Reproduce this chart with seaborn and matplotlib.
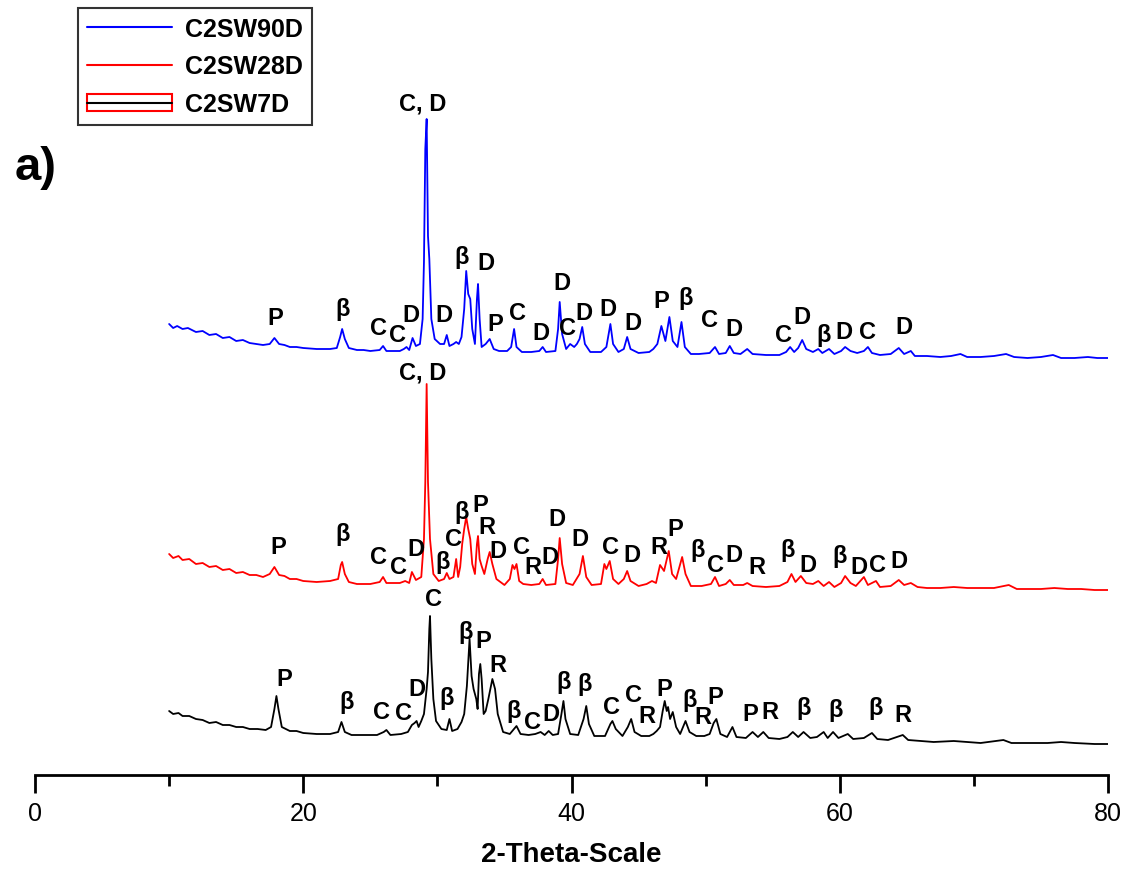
import matplotlib
matplotlib.use("Agg")
import matplotlib.pyplot as plt
from matplotlib.lines import Line2D
from matplotlib.patches import Rectangle
from matplotlib.ticker import MultipleLocator
import numpy as np
import pandas as pd
import seaborn as sns

# ---------------- XRD patterns (2-theta in degrees, intensity in a.u.) ----------------
tt_90d = [10.0, 10.3, 10.6, 11.0, 11.4, 12.0, 12.5, 13.0, 13.5, 14.0, 14.5, 15.0, 15.5, 16.0,
          16.5, 17.0, 17.5, 17.85, 18.2, 18.6, 19.0, 19.5, 20.0, 21.0, 21.5, 22.0, 22.5, 22.75,
          22.9, 23.1, 23.4, 24.0, 24.5, 25.0, 25.7, 25.95, 26.2, 26.7, 27.2, 27.5, 27.7, 27.9,
          28.15, 28.4, 28.7, 28.9, 29.0, 29.1, 29.2, 29.3, 29.4, 29.55, 29.8, 30.2, 30.5, 30.7,
          30.9, 31.2, 31.4, 31.6, 31.8, 32.0, 32.15, 32.3, 32.45, 32.6, 32.8, 32.95, 33.03, 33.15,
          33.3, 33.6, 33.9, 34.2, 34.6, 35.2, 35.5, 35.72, 35.9, 36.3, 37.0, 37.6, 37.85, 38.1,
          38.8, 39.0, 39.12, 39.3, 39.6, 39.9, 40.2, 40.4, 40.6, 40.8, 41.0, 41.4, 42.2, 42.6,
          42.9, 43.1, 43.5, 43.9, 44.15, 44.4, 45.0, 45.8, 46.1, 46.4, 46.7, 47.0, 47.3, 47.55,
          47.9, 48.2, 48.45, 48.9, 49.5, 50.3, 50.7, 51.0, 51.5, 51.8, 52.1, 52.6, 53.1, 53.5,
          54.5, 55.5, 56.0, 56.3, 56.6, 56.9, 57.2, 57.5, 58.0, 58.4, 58.7, 59.2, 59.6, 60.1,
          60.4, 60.8, 61.3, 61.8, 62.1, 62.4, 63.0, 63.8, 64.4, 64.8, 65.3, 65.6, 66.5, 67.5,
          68.3, 69.0, 69.5, 70.5, 71.5, 72.4, 73.0, 74.0, 75.0, 75.9, 76.5, 77.5, 78.5, 79.2, 80.0]
int_90d = [51, 47, 49, 46, 47, 43, 44, 40, 41, 37, 38, 34, 35, 32,
           31, 30, 31, 37, 31, 30, 28, 28, 27, 26, 26, 26, 27, 38,
           46, 36, 27, 25, 25, 24, 25, 29, 24, 24, 24, 26, 28, 25,
           37, 29, 31, 56, 113, 226, 256, 139, 116, 56, 36, 31, 31, 40,
           29, 31, 33, 31, 38, 66, 104, 81, 76, 46, 31, 76, 91, 56,
           28, 31, 36, 26, 24, 24, 28, 46, 28, 23, 23, 24, 28, 23,
           24, 46, 73, 41, 26, 31, 28, 31, 36, 48, 31, 23, 23, 28,
           51, 31, 23, 26, 38, 26, 22, 23, 26, 31, 49, 34, 58, 34,
           28, 53, 28, 21, 21, 22, 28, 21, 22, 29, 22, 21, 26, 21,
           20, 20, 23, 28, 23, 27, 35, 26, 23, 26, 22, 26, 21, 24,
           28, 24, 22, 24, 28, 22, 20, 21, 27, 21, 24, 19, 19, 18,
           19, 21, 18, 18, 19, 21, 18, 17, 18, 20, 17, 17, 18, 17, 17]

tt_28d = [10.0, 10.3, 10.7, 11.0, 11.5, 12.0, 12.5, 13.0, 13.5, 14.0, 14.5, 15.0, 15.5, 16.0,
          16.5, 17.0, 17.5, 17.85, 18.2, 18.6, 19.0, 19.5, 20.0, 21.0, 22.0, 22.6, 22.8, 22.9,
          23.1, 23.4, 24.0, 25.0, 25.7, 25.95, 26.2, 26.7, 27.2, 27.6, 27.9, 28.1, 28.4, 28.8,
          29.0, 29.1, 29.2, 29.3, 29.45, 29.7, 30.1, 30.5, 30.7, 30.9, 31.2, 31.4, 31.55, 31.7,
          31.85, 32.0, 32.15, 32.3, 32.45, 32.6, 32.8, 32.95, 33.03, 33.15, 33.3, 33.5, 33.75, 33.9,
          34.1, 34.4, 35.0, 35.4, 35.6, 35.75, 35.9, 36.1, 36.4, 37.0, 37.6, 37.85, 38.1, 38.8,
          39.0, 39.12, 39.3, 39.6, 40.1, 40.6, 40.85, 41.1, 41.5, 42.2, 42.45, 42.6, 42.85, 43.1,
          43.5, 43.9, 44.15, 44.4, 45.0, 45.6, 46.0, 46.3, 46.6, 46.9, 47.25, 47.5, 47.8, 48.25,
          48.5, 48.9, 49.7, 50.4, 50.7, 51.0, 51.5, 51.8, 52.1, 52.8, 53.1, 53.5, 54.5, 55.5,
          56.1, 56.4, 56.7, 57.1, 57.5, 58.0, 58.4, 58.8, 59.2, 59.6, 60.1, 60.4, 60.8, 61.2,
          61.8, 62.1, 62.7, 63.0, 63.8, 64.4, 64.8, 65.3, 65.8, 66.5, 67.5, 68.5, 69.5, 70.5,
          71.5, 72.6, 73.2, 74.0, 75.0, 76.0, 77.0, 78.0, 79.0, 80.0]
int_28d = [51, 47, 49, 45, 46, 41, 42, 38, 39, 35, 36, 32, 33, 30,
           30, 28, 31, 38, 30, 29, 26, 26, 24, 23, 24, 26, 40, 43,
           31, 23, 21, 21, 23, 28, 22, 22, 22, 24, 22, 33, 25, 28,
           66, 123, 221, 123, 66, 31, 24, 26, 32, 26, 28, 46, 28, 38,
           61, 76, 88, 76, 66, 41, 31, 61, 69, 46, 39, 31, 46, 53,
           41, 26, 20, 26, 40, 36, 41, 24, 21, 20, 21, 26, 20, 21,
           46, 67, 41, 22, 20, 31, 49, 28, 20, 21, 41, 36, 44, 26,
           21, 26, 34, 24, 19, 21, 24, 22, 40, 34, 54, 31, 26, 48,
           31, 19, 19, 21, 28, 19, 21, 25, 20, 20, 22, 19, 18, 19,
           23, 31, 23, 29, 22, 21, 24, 19, 23, 18, 22, 29, 22, 19,
           28, 20, 24, 18, 19, 25, 20, 22, 18, 17, 17, 18, 17, 17,
           17, 20, 16, 16, 16, 17, 16, 16, 15, 15]

tt_7d = [10.0, 10.3, 10.7, 11.0, 11.5, 12.0, 12.5, 13.0, 13.5, 14.0, 14.5, 15.0, 15.5, 16.0,
         16.6, 17.2, 17.6, 17.85, 18.0, 18.15, 18.4, 19.0, 19.5, 20.0, 21.0, 22.0, 22.6, 22.85,
         23.1, 23.6, 24.5, 25.5, 26.0, 26.2, 26.5, 27.3, 27.8, 28.1, 28.3, 28.45, 28.6, 28.8,
         29.0, 29.2, 29.3, 29.4, 29.45, 29.55, 29.7, 29.9, 30.3, 30.7, 30.9, 31.1, 31.5, 31.8,
         32.0, 32.2, 32.4, 32.55, 32.7, 32.9, 33.0, 33.1, 33.2, 33.3, 33.45, 33.6, 33.8, 34.1,
         34.3, 34.5, 34.9, 35.4, 35.9, 36.2, 36.8, 37.3, 37.7, 38.0, 38.3, 38.6, 39.0, 39.25,
         39.4, 39.55, 39.9, 40.5, 40.9, 41.1, 41.3, 41.7, 42.5, 42.9, 43.05, 43.3, 43.8, 44.2,
         44.45, 44.7, 45.2, 45.8, 46.1, 46.35, 46.6, 46.8, 46.95, 47.1, 47.2, 47.35, 47.55, 47.8,
         48.1, 48.5, 48.8, 49.3, 49.9, 50.3, 50.6, 50.8, 51.1, 51.6, 52.0, 52.3, 53.0, 53.5,
         53.9, 54.3, 54.7, 55.5, 56.1, 56.5, 56.9, 57.3, 57.8, 58.3, 58.8, 59.1, 59.5, 59.9,
         60.6, 61.0, 61.8, 62.4, 62.8, 63.6, 64.7, 65.1, 66.0, 67.0, 68.5, 69.5, 70.5, 72.2,
         72.8, 74.0, 75.5, 76.5, 77.5, 79.0, 80.0]
int_7d = [44, 41, 42, 39, 39, 36, 35, 32, 33, 30, 30, 28, 28, 26,
          26, 25, 28, 46, 59, 46, 28, 24, 24, 22, 21, 21, 23, 33,
          23, 20, 20, 20, 23, 25, 20, 21, 23, 30, 32, 34, 28, 34,
          41, 66, 83, 126, 139, 96, 56, 34, 26, 25, 36, 24, 26, 33,
          41, 69, 116, 79, 66, 56, 46, 81, 91, 76, 41, 44, 56, 76,
          66, 41, 23, 21, 29, 21, 20, 21, 23, 20, 24, 20, 21, 41,
          54, 36, 21, 20, 36, 49, 31, 19, 19, 31, 34, 26, 19, 28,
          36, 23, 19, 19, 21, 24, 28, 44, 54, 44, 48, 36, 43, 28,
          21, 34, 23, 19, 19, 21, 32, 36, 21, 18, 28, 18, 17, 23,
          18, 23, 17, 16, 18, 23, 18, 23, 17, 18, 23, 17, 23, 17,
          21, 16, 17, 22, 16, 15, 20, 15, 14, 13, 14, 13, 12, 15,
          12, 12, 12, 13, 12, 11, 11]

samples = ["C2SW90D", "C2SW28D", "C2SW7D"]
stack_offset = [400, 170, 20]          # vertical shift of each pattern
line_colors = ["#0000ff", "#ff0000", "#000000"]

# phase markers: (symbol, 2-theta, height on the stacked scale)
marks_90d = [("P", 17.9, 458), ("β", 22.9, 467), ("C", 25.6, 448), ("C", 27.0, 441),
             ("D", 28.0, 461), ("C, D", 28.9, 672), ("D", 30.5, 461), ("β", 31.8, 519),
             ("D", 33.6, 513), ("P", 34.3, 452), ("C", 36.0, 463), ("D", 37.7, 443),
             ("D", 39.3, 493), ("C", 39.7, 448), ("D", 40.9, 463), ("D", 42.7, 467),
             ("D", 44.6, 453), ("P", 46.7, 475), ("β", 48.5, 478), ("C", 50.3, 456),
             ("D", 52.1, 447), ("C", 55.8, 441), ("D", 57.2, 459), ("β", 58.8, 441),
             ("D", 60.3, 444), ("C", 62.1, 444), ("D", 64.8, 449)]
marks_28d = [("P", 18.1, 228), ("β", 22.9, 241), ("C", 25.6, 219), ("C", 27.1, 209),
             ("D", 28.4, 227), ("C, D", 28.9, 403), ("β", 30.4, 214), ("C", 31.2, 237),
             ("β", 31.8, 264), ("P", 33.2, 271), ("R", 33.7, 249), ("D", 34.5, 225),
             ("C", 36.3, 229), ("R", 37.1, 208), ("D", 38.4, 219), ("D", 38.9, 256),
             ("D", 40.6, 236), ("C", 42.9, 229), ("D", 44.5, 221), ("R", 46.5, 228),
             ("P", 47.7, 246), ("β", 49.4, 226), ("C", 50.7, 210), ("D", 52.1, 221),
             ("R", 53.8, 209), ("β", 56.1, 225), ("D", 57.6, 210), ("β", 60.0, 219),
             ("D", 61.4, 209), ("C", 62.8, 210), ("D", 64.4, 215)]
marks_7d = [("P", 18.6, 96), ("β", 23.2, 73), ("C", 25.8, 63), ("C", 27.5, 62),
            ("D", 28.5, 86), ("C", 29.7, 176), ("β", 30.7, 78), ("β", 32.1, 143),
            ("P", 33.4, 134), ("R", 34.5, 111), ("β", 35.7, 64), ("C", 37.1, 53),
            ("D", 38.5, 61), ("β", 39.4, 94), ("β", 41.0, 92), ("C", 43.0, 68),
            ("C", 44.6, 80), ("R", 45.6, 59), ("P", 46.9, 87), ("β", 48.8, 76),
            ("R", 49.8, 58), ("P", 50.7, 79), ("P", 53.3, 61), ("R", 54.8, 63),
            ("β", 57.3, 68), ("β", 59.7, 65), ("β", 62.7, 68), ("R", 64.7, 60)]

x_ticks = [0, 20, 40, 60, 80]

# ---------------- figure ----------------
sns.set_style("white")
plt.rcParams["font.family"] = ["Liberation Sans", "DejaVu Sans"]
plt.rcParams["text.color"] = "black"
plt.rcParams["axes.labelcolor"] = "black"
plt.rcParams["xtick.color"] = "black"
plt.rcParams["xtick.labelcolor"] = "black"

W, H = 1131, 870
fig = plt.figure(figsize=(W / 100, H / 100), dpi=100)
ax = fig.add_axes([35 / W, 94 / H, 1073 / W, 686 / H])

frames = []
for name, tt, inten, off in zip(samples, [tt_90d, tt_28d, tt_7d],
                                [int_90d, int_28d, int_7d], stack_offset):
    frames.append(pd.DataFrame({"two_theta": tt,
                                "signal": np.asarray(inten) + off,
                                "sample": name}))
df = pd.concat(frames, ignore_index=True)

sns.lineplot(data=df, x="two_theta", y="signal", hue="sample", hue_order=samples,
             palette=line_colors, estimator=None, sort=False, linewidth=1.3,
             legend=False, ax=ax)

for marks in (marks_90d, marks_28d, marks_7d):
    for sym, x, y in marks:
        ax.text(x, y, sym, ha="center", va="center", fontsize=17,
                fontweight="bold", color="black")

ax.set_xlim(0, 80)
ax.set_ylim(0, 686)
ax.set_xticks(x_ticks)
ax.xaxis.set_minor_locator(MultipleLocator(10))
ax.set_yticks([])
for side in ("top", "left", "right"):
    ax.spines[side].set_visible(False)
ax.spines["bottom"].set_linewidth(2)
ax.spines["bottom"].set_color("black")
ax.tick_params(axis="x", which="major", direction="out", length=13, width=2,
               labelsize=18, pad=6, colors="black", bottom=True)
ax.tick_params(axis="x", which="minor", direction="out", length=8, width=2,
               colors="black", bottom=True)
ax.set_xlabel("2-Theta-Scale", fontsize=20, fontweight="bold", labelpad=11,
              color="black")
ax.set_ylabel("")
ax.patch.set_alpha(0)

# legend
handles = [Line2D([], [], color=line_colors[0], lw=1.5),
           Line2D([], [], color=line_colors[1], lw=1.5),
           (Rectangle((0, 0), 1, 1, facecolor="none", edgecolor="#ff0000", lw=1.5),
            Line2D([], [], color=line_colors[2], lw=1.5))]
leg = fig.legend(handles, samples, loc="upper left", bbox_to_anchor=(78 / W, 1 - 9 / H),
                 bbox_transform=fig.transFigure, frameon=True, fancybox=False,
                 framealpha=1, edgecolor="#333333", borderaxespad=0, borderpad=0.35,
                 handlelength=3.4, handletextpad=0.55, labelspacing=0.55,
                 prop={"size": 18, "weight": "bold"})
leg.get_frame().set_linewidth(1.5)
for t in leg.get_texts():
    t.set_color("black")

fig.text(36 / W, 1 - 168 / H, "a)", fontsize=34, fontweight="bold",
         ha="center", va="center", color="black")

fig.savefig("out.png", dpi=100, facecolor="white")
